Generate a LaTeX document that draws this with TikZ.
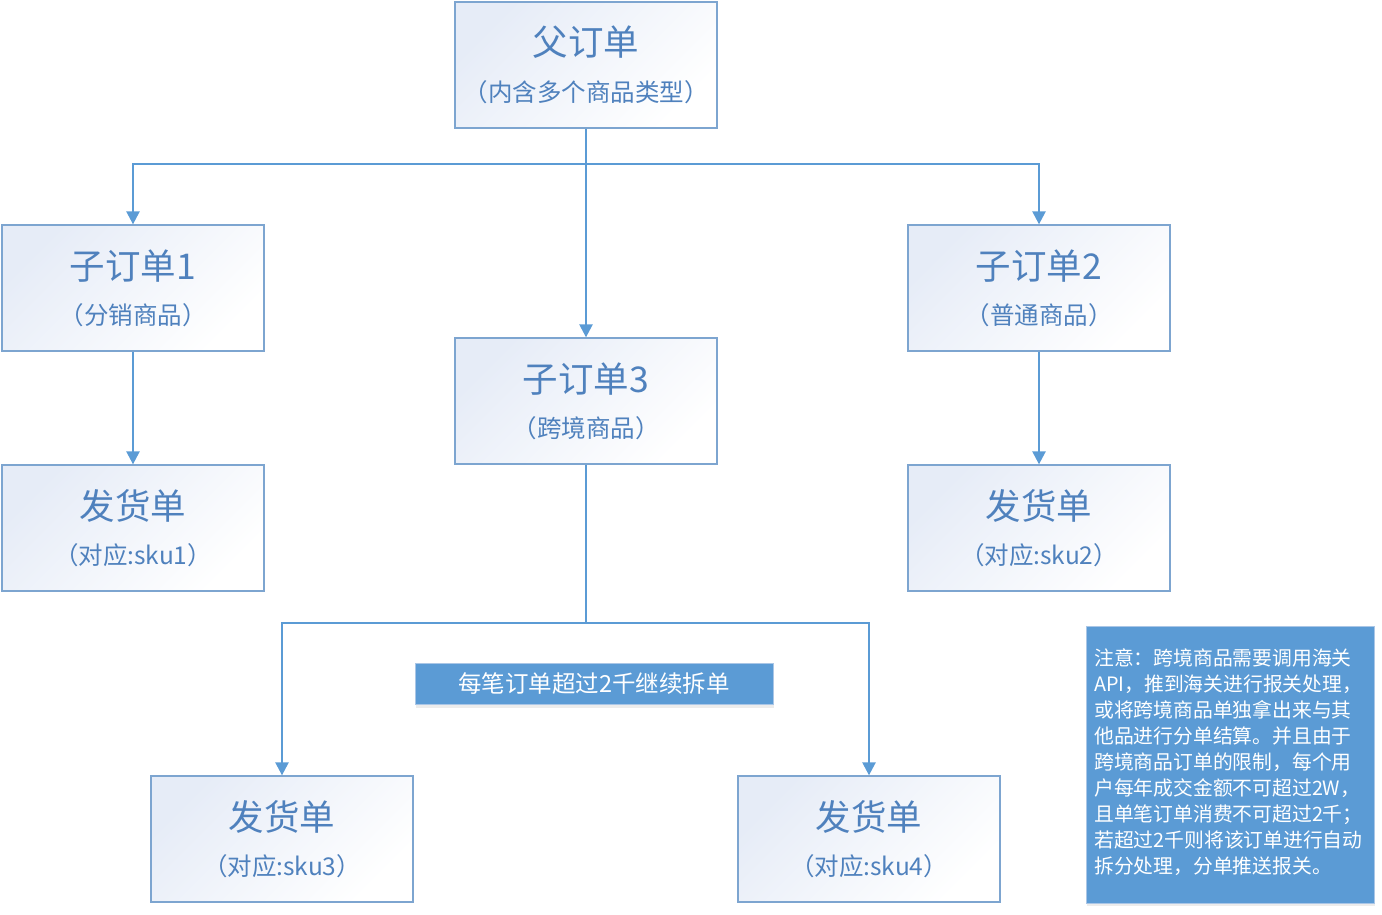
\documentclass[tikz,border=0pt]{standalone}
\usepackage{fontspec}
\setmainfont{Noto Sans CJK SC}
\usepackage{tikz}
\usetikzlibrary{arrows.meta, positioning, calc, shadows}

\definecolor{lineblue}{RGB}{91, 155, 213}
\definecolor{edgeblue}{RGB}{125, 165, 208}
\definecolor{textblue}{RGB}{79, 129, 189}
\definecolor{shadeblue}{RGB}{230, 236, 247}
\definecolor{noteedge}{RGB}{170, 198, 230}

\begin{document}
\begin{tikzpicture}[x=1pt, y=-1pt,
  card/.style={draw=edgeblue, line width=1.3pt, top color=shadeblue, bottom color=white,
    shading angle=45, minimum width=262pt, minimum height=126pt, inner sep=0pt},
  ttl/.style={text=textblue, font=\fontsize{35.5}{38}\selectfont, inner sep=0pt},
  sub/.style={text=textblue, font=\fontsize{24.5}{28}\selectfont, inner sep=0pt},
  link/.style={draw=lineblue, line width=2.4pt},
  arr/.style={link, -{Triangle[width=13pt, length=13pt]}},
  bluebox/.style={fill=lineblue, draw=noteedge, line width=1pt, text=white,
    drop shadow={opacity=0.15, shadow xshift=1pt, shadow yshift=-3pt}}]
  \useasboundingbox (0,0) rectangle (1382,914);

  % Boxes
  \node[card] (po) at (586, 65) {};
  \node[card] (c1) at (133, 288) {};
  \node[card] (c2) at (1039, 288) {};
  \node[card] (c3) at (586, 401) {};
  \node[card] (d1) at (133, 528) {};
  \node[card] (d2) at (1039, 528) {};
  \node[card] (d3) at (282, 839) {};
  \node[card] (d4) at (869, 839) {};

  % Texts in boxes
  \node[ttl] (po-t) at ($(po.north)+(0,41)$) {父订单};
  \node[sub] (po-s) at ($(po.north)+(0,91)$) {（内含多个商品类型）};
  \node[ttl] (c1-t) at ($(c1.north)+(0,42)$) {子订单1};
  \node[sub] (c1-s) at ($(c1.north)+(0,91)$) {（分销商品）};
  \node[ttl] (c2-t) at ($(c2.north)+(0,42)$) {子订单2};
  \node[sub] (c2-s) at ($(c2.north)+(0,91)$) {（普通商品）};
  \node[ttl] (c3-t) at ($(c3.north)+(0,42)$) {子订单3};
  \node[sub] (c3-s) at ($(c3.north)+(0,91)$) {（跨境商品）};
  \node[ttl] (d1-t) at ($(d1.north)+(0,42)$) {发货单};
  \node[sub] (d1-s) at ($(d1.north)+(0,91)$) {（对应:sku1）};
  \node[ttl] (d2-t) at ($(d2.north)+(0,42)$) {发货单};
  \node[sub] (d2-s) at ($(d2.north)+(0,91)$) {（对应:sku2）};
  \node[ttl] (d3-t) at ($(d3.north)+(0,42)$) {发货单};
  \node[sub] (d3-s) at ($(d3.north)+(0,91)$) {（对应:sku3）};
  \node[ttl] (d4-t) at ($(d4.north)+(0,42)$) {发货单};
  \node[sub] (d4-s) at ($(d4.north)+(0,91)$) {（对应:sku4）};

  % Connectors
  \coordinate (s1) at (586, 164);
  \coordinate (s2) at (586, 623);
  \draw[link] (po.south) -- (s1);
  \draw[arr] (s1) -| (c1.north);
  \draw[arr] (s1) -| (c2.north);
  \draw[arr] (s1) -- (c3.north);
  \draw[arr] (c1.south) -- (d1.north);
  \draw[arr] (c2.south) -- (d2.north);
  \draw[link] (c3.south) -- (s2);
  \draw[arr] (s2) -| (d3.north);
  \draw[arr] (s2) -| (d4.north);

  % Split label
  \node[bluebox, minimum width=358pt, minimum height=41pt, inner sep=0pt,
    font=\fontsize{23.5}{26}\selectfont] (split) at (594, 684) {每笔订单超过2千继续拆单};

  % Note
  \node[bluebox, minimum width=288pt, minimum height=277pt] (note) at (1230, 764.5) {};
  \node[anchor=north west, inner sep=0pt, align=left, text=white,
    font=\fontsize{19.8}{26.1}\selectfont] (note-t) at (1094, 648)
    {注意：跨境商品需要调用海关\\API，推到海关进行报关处理，\\或将跨境商品单独拿出来与其\\他品进行分单结算。并且由于\\跨境商品订单的限制，每个用\\户每年成交金额不可超过2W，\\且单笔订单消费不可超过2千；\\若超过2千则将该订单进行自动\\拆分处理，分单推送报关。};
\end{tikzpicture}
\end{document}
